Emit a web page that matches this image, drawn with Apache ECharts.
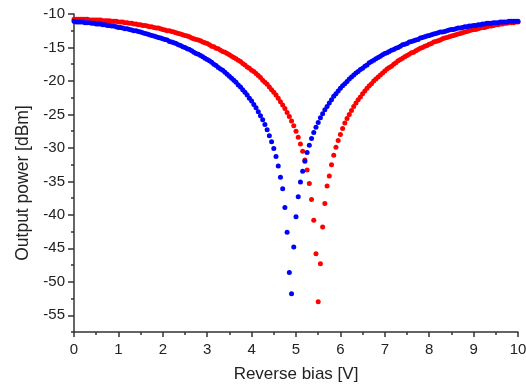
<!DOCTYPE html>
<html>
<head>
<meta charset="utf-8">
<script src="https://cdn.jsdelivr.net/npm/echarts@6/dist/echarts.min.js"></script>
<style>
  html, body { margin: 0; padding: 0; background: #fff; }
  #chart { width: 526px; height: 384px; }
</style>
</head>
<body>
<div id="chart"></div>
<script>
// Output power (dBm) sampled every 0.05 V of reverse bias, 0 V .. 10 V
const blueDbm = [
  -11.1, -11.2, -11.2, -11.2, -11.2, -11.3, -11.3, -11.3, -11.4, -11.4,
  -11.5, -11.5, -11.5, -11.6, -11.6, -11.7, -11.7, -11.8, -11.8, -11.9,
  -12.0, -12.0, -12.1, -12.2, -12.2, -12.3, -12.4, -12.5, -12.5, -12.6,
  -12.7, -12.8, -12.9, -13.0, -13.1, -13.2, -13.3, -13.4, -13.5, -13.6,
  -13.7, -13.8, -13.9, -14.1, -14.2, -14.3, -14.4, -14.6, -14.7, -14.9,
  -15.0, -15.2, -15.3, -15.5, -15.7, -15.9, -16.0, -16.2, -16.4, -16.6,
  -16.8, -17.0, -17.2, -17.5, -17.7, -18.0, -18.2, -18.4, -18.7, -19.0,
  -19.3, -19.6, -19.9, -20.2, -20.6, -20.9, -21.3, -21.7, -22.1, -22.6,
  -23.0, -23.5, -24.0, -24.6, -25.2, -25.8, -26.5, -27.3, -28.2, -29.1,
  -30.1, -31.3, -32.7, -34.4, -36.1, -38.9, -42.6, -48.6, -51.8, -44.8,
  -40.3, -37.3, -35.1, -33.5, -32.0, -30.7, -29.6, -28.6, -27.7, -26.9,
  -26.2, -25.5, -24.9, -24.3, -23.8, -23.3, -22.8, -22.3, -21.9, -21.5,
  -21.1, -20.7, -20.4, -20.1, -19.7, -19.4, -19.1, -18.8, -18.6, -18.3,
  -18.1, -17.8, -17.6, -17.3, -17.1, -16.9, -16.7, -16.5, -16.3, -16.1,
  -15.9, -15.8, -15.6, -15.4, -15.3, -15.1, -15.0, -14.8, -14.6, -14.5,
  -14.4, -14.2, -14.1, -14.0, -13.9, -13.8, -13.6, -13.5, -13.4, -13.3,
  -13.2, -13.1, -13.0, -12.9, -12.8, -12.7, -12.7, -12.6, -12.5, -12.4,
  -12.3, -12.3, -12.2, -12.1, -12.1, -12.0, -11.9, -11.9, -11.8, -11.8,
  -11.7, -11.7, -11.6, -11.6, -11.5, -11.5, -11.4, -11.4, -11.4, -11.3,
  -11.3, -11.3, -11.2, -11.2, -11.2, -11.2, -11.1, -11.1, -11.1, -11.1,
  -11.1
];

const redDbm = [
  -10.8, -10.8, -10.8, -10.8, -10.8, -10.8, -10.8, -10.9, -10.9, -10.9,
  -10.9, -10.9, -10.9, -11.0, -11.0, -11.0, -11.0, -11.1, -11.1, -11.1,
  -11.2, -11.2, -11.2, -11.3, -11.3, -11.4, -11.4, -11.5, -11.5, -11.6,
  -11.6, -11.7, -11.7, -11.8, -11.9, -11.9, -12.0, -12.1, -12.1, -12.2,
  -12.3, -12.4, -12.5, -12.5, -12.6, -12.7, -12.8, -12.9, -13.0, -13.1,
  -13.2, -13.3, -13.4, -13.6, -13.7, -13.8, -13.9, -14.0, -14.2, -14.3,
  -14.4, -14.6, -14.8, -14.9, -15.1, -15.2, -15.4, -15.6, -15.7, -15.9,
  -16.1, -16.3, -16.5, -16.7, -16.9, -17.1, -17.4, -17.6, -17.9, -18.1,
  -18.4, -18.6, -18.9, -19.2, -19.5, -19.9, -20.2, -20.5, -20.9, -21.3,
  -21.7, -22.1, -22.6, -23.1, -23.6, -24.1, -24.7, -25.3, -26.0, -26.7,
  -27.5, -28.4, -29.4, -30.5, -31.8, -33.3, -35.3, -37.7, -40.8, -45.8,
  -53.0, -47.3, -41.8, -38.3, -35.7, -34.2, -32.5, -31.1, -29.9, -28.9,
  -28.0, -27.1, -26.3, -25.6, -25.0, -24.4, -23.8, -23.3, -22.8, -22.4,
  -21.9, -21.5, -21.1, -20.7, -20.4, -20.0, -19.7, -19.4, -19.1, -18.8,
  -18.5, -18.2, -18.0, -17.8, -17.5, -17.3, -17.0, -16.8, -16.6, -16.4,
  -16.2, -16.0, -15.8, -15.7, -15.5, -15.3, -15.1, -15.0, -14.8, -14.7,
  -14.5, -14.4, -14.2, -14.1, -14.0, -13.9, -13.7, -13.6, -13.5, -13.4,
  -13.3, -13.2, -13.1, -13.0, -12.9, -12.8, -12.7, -12.6, -12.5, -12.4,
  -12.3, -12.3, -12.2, -12.1, -12.0, -12.0, -11.9, -11.8, -11.8, -11.7,
  -11.6, -11.6, -11.5, -11.5, -11.4, -11.4, -11.3, -11.3, -11.3, -11.2,
  -11.2
];

const biasStepV = 0.05;
const biasV = blueDbm.map((_, i) => +(i * biasStepV).toFixed(2));

const yMajorTicks = [-55, -50, -45, -40, -35, -30, -25, -20, -15, -10];

const axisColor = '#333';
const textColor = '#222';
const fontFamily = 'Liberation Sans, Arial, sans-serif';

const chart = echarts.init(document.getElementById('chart'), null, { renderer: 'canvas' });

chart.setOption({
  animation: false,
  backgroundColor: '#fff',
  grid: { left: 74, right: 8, top: 14, bottom: 52, containLabel: false, outerBoundsMode: 'none' },
  xAxis: {
    type: 'value',
    min: 0, max: 10, interval: 1,
    name: 'Reverse bias [V]',
    nameLocation: 'middle',
    nameGap: 34,
    nameTextStyle: { fontSize: 17, color: textColor, fontFamily },
    axisLine: { show: true, lineStyle: { color: axisColor, width: 1.5 } },
    axisTick: { show: true, length: 5, lineStyle: { color: axisColor, width: 1.5 } },
    minorTick: { show: true, splitNumber: 2, length: 3, lineStyle: { color: axisColor, width: 1.5 } },
    axisLabel: { fontSize: 15, color: textColor, margin: 10, fontFamily },
    splitLine: { show: false },
    minorSplitLine: { show: false }
  },
  yAxis: [
    {
      // minor ticks every 2.5 dB
      type: 'value',
      min: -57.5, max: -10, interval: 2.5,
      axisLine: { show: true, lineStyle: { color: axisColor, width: 1.5 } },
      axisTick: { show: true, length: 3, lineStyle: { color: axisColor, width: 1.5 } },
      axisLabel: { show: false },
      splitLine: { show: false }
    },
    {
      // labelled major ticks every 5 dB
      type: 'value',
      min: -57.5, max: -10,
      position: 'left',
      name: 'Output power [dBm]',
      nameLocation: 'middle',
      nameGap: 42,
      nameTextStyle: { fontSize: 17.5, color: textColor, fontFamily, padding: [0, 20, 0, 0] },
      axisLine: { show: false },
      axisTick: { show: true, length: 6, customValues: yMajorTicks, lineStyle: { color: axisColor, width: 1.5 } },
      axisLabel: { show: true, customValues: yMajorTicks, fontSize: 15, color: textColor, margin: 9, fontFamily },
      splitLine: { show: false }
    }
  ],
  series: [
    {
      name: 'red',
      type: 'scatter',
      yAxisIndex: 0,
      symbol: 'circle',
      symbolSize: 5,
      itemStyle: { color: '#ff0000', opacity: 1 },
      data: biasV.map((v, i) => [v, redDbm[i]])
    },
    {
      name: 'blue',
      type: 'scatter',
      yAxisIndex: 0,
      symbol: 'circle',
      symbolSize: 5,
      itemStyle: { color: '#0000ff', opacity: 1 },
      data: biasV.map((v, i) => [v, blueDbm[i]])
    }
  ]
});
</script>
</body>
</html>
